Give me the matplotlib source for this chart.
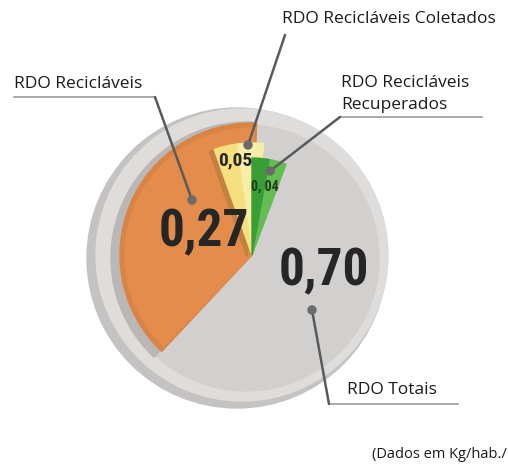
import matplotlib
matplotlib.use("Agg")
import matplotlib.pyplot as plt
from matplotlib.patches import Wedge, Circle

# values in Kg/hab./dia
total = 0.70
reciclaveis = 0.27
coletados = 0.05
recuperados = 0.04

value_labels = ["0,70", "0,27", "0,05", "0, 04"]
names = ["RDO Totais", "RDO Recicláveis", "RDO Recicláveis Coletados",
         "RDO Recicláveis\nRecuperados"]
note = "(Dados em Kg/hab./"

W, H = 508, 466
LABEL_FONT = ["Open Sans", "DejaVu Sans"]
NUM_FONT = ["Roboto Condensed", "DejaVu Sans"]


def Y(y):
    # image rows -> axis coords (y up)
    return H - y


def deg(v):
    return v / total * 360.0


fig = plt.figure(figsize=(W / 100, H / 100), dpi=100)
ax = fig.add_axes([0, 0, 1, 1])
ax.set_xlim(0, W)
ax.set_ylim(0, H)
ax.set_aspect("equal")
ax.axis("off")

# base discs (RDO Totais)
ax.add_patch(Circle((237, Y(258)), 150, color="#c4c3c1", zorder=1))
ax.add_patch(Circle((242, Y(255)), 146, color="#dedddb", zorder=2))
ax.add_patch(Circle((246, Y(258)), 133, color="#d2d0ce", zorder=3))

apex = (252, Y(255))

# orange wedge (recicláveis)
a_or = deg(reciclaveis)
ax.add_patch(Wedge((apex[0] - 5, apex[1] - 3), 136, 88, 88 + a_or,
                   color="#b9b8b6", zorder=4))
ax.add_patch(Wedge(apex, 132, 88, 88 + a_or, color="#d98445", zorder=5))
ax.add_patch(Wedge(apex, 127, 89, 88 + a_or - 1, color="#e38c4c", zorder=6))

# yellow wedge (coletados)
a_ye = deg(coletados)
y1 = 84
ax.add_patch(Wedge((apex[0] - 5, apex[1] - 2), 112, y1, y1 + a_ye,
                   color="#c4803f", zorder=7))
ax.add_patch(Wedge(apex, 112, y1, y1 + a_ye * 0.55, color="#f8eda6", zorder=8))
ax.add_patch(Wedge(apex, 112, y1 + a_ye * 0.55, y1 + a_ye, color="#f6df7e", zorder=8))

# green wedge (recuperados)
a_gr = deg(recuperados)
ax.add_patch(Wedge(apex, 97, 90 - a_gr, 90 - a_gr * 0.5, color="#63bd53", zorder=9))
ax.add_patch(Wedge(apex, 97, 90 - a_gr * 0.5, 90, color="#3a9e36", zorder=9))

# value labels
big = dict(family=NUM_FONT, fontweight="bold", fontstretch="condensed",
           color="#262626", ha="center", va="center", zorder=20)
ax.text(324, Y(271), value_labels[0], fontsize=37, **big)
ax.text(204, Y(232), value_labels[1], fontsize=37, **big)
ax.text(235, Y(160), value_labels[2], fontsize=14, **big)
ax.text(265, Y(187), value_labels[3], fontsize=10, family=NUM_FONT,
        fontweight="bold", fontstretch="condensed", color="#1e3d1c",
        ha="center", va="center", zorder=20)

# leader lines
lc = "#5a5a5a"


def leader(xs, ys, dot):
    ax.plot(xs, [Y(v) for v in ys], color=lc, lw=1.8, zorder=15,
            solid_capstyle="round")
    ax.add_patch(Circle((dot[0], Y(dot[1])), 4, color="#6a6a6a", zorder=16))


def underline(x0, x1, y):
    ax.plot([x0, x1], [Y(y), Y(y)], color="#9a9a9a", lw=1.2, zorder=14)


underline(14, 155, 97)
leader([155, 192], [97, 200], (192, 200))

leader([285, 248], [35, 145], (248, 145))

underline(340, 482, 117)
leader([340, 270], [117, 171], (270, 171))

underline(329, 458, 404)
leader([312, 329], [310, 404], (312, 310))

lab = dict(family=LABEL_FONT, fontsize=12.5, color="#1a1a1a", va="center", zorder=20)
ax.text(14, Y(84), names[1], ha="left", **lab)
ax.text(282, Y(19), names[2], ha="left", **lab)
ax.text(341, Y(94), names[3], ha="left", linespacing=1.45, **lab)
ax.text(347, Y(390), names[0], ha="left", **lab)
ax.text(507, Y(455), note, ha="right", family=LABEL_FONT, fontsize=10.5,
        color="#1a1a1a", va="center", zorder=20)

fig.savefig("out.png", dpi=100)
